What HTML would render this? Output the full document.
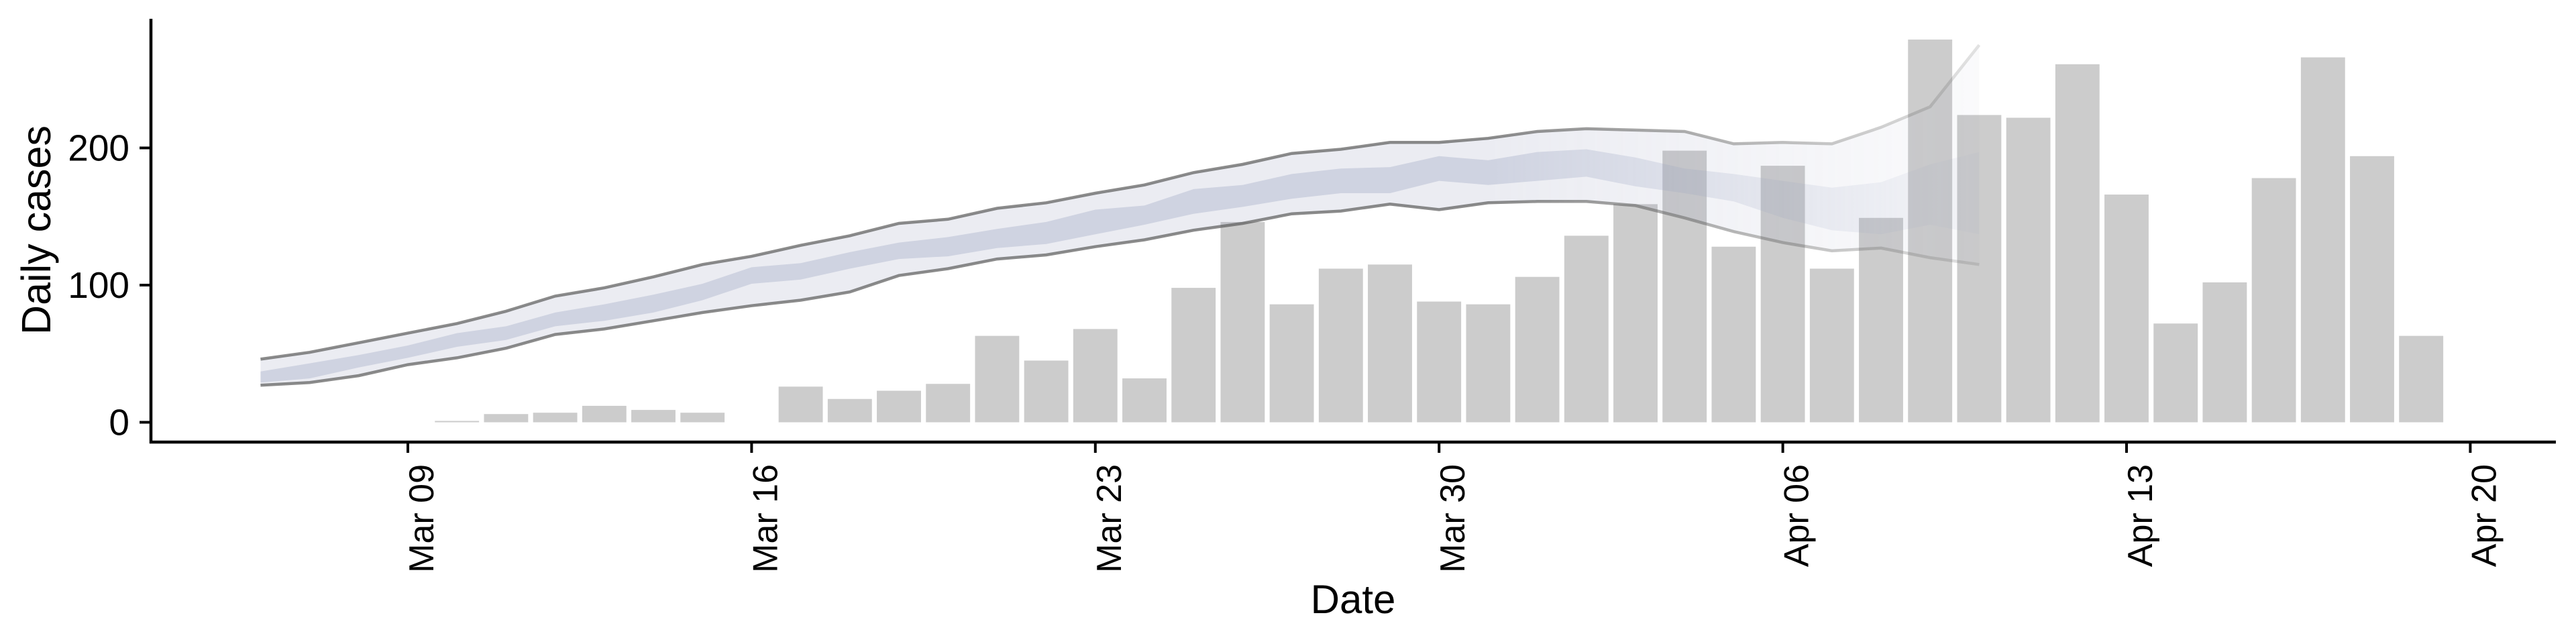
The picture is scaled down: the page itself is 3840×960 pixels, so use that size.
<!DOCTYPE html>
<html><head><meta charset="utf-8"><style>
html,body{margin:0;padding:0;background:#fff;}
svg{display:block;font-family:"Liberation Sans",sans-serif;}
</style></head><body>
<svg id="chart" width="3840" height="960" viewBox="0 0 3840 960" xmlns="http://www.w3.org/2000/svg">
<defs>
<linearGradient id="fadeGrad" gradientUnits="userSpaceOnUse" x1="0" y1="0" x2="3840" y2="0">
<stop id="fs1" offset="0" stop-color="#fff" stop-opacity="1"/>
<stop id="fs2" offset="0.5" stop-color="#fff" stop-opacity="1"/>
<stop id="fs3" offset="1" stop-color="#fff" stop-opacity="0.25"/>
</linearGradient>
<mask id="fadeMask" maskUnits="userSpaceOnUse" x="0" y="0" width="3840" height="960">
<rect x="0" y="0" width="3840" height="960" fill="url(#fadeGrad)"/>
</mask>
</defs>
<g id="bars"></g>
<g id="ribbon" mask="url(#fadeMask)"></g>
<g id="axes"></g>
</svg>
<script>
// Data: days counted from Mar 06
const barStartDay = 4; // Mar 10
const barValues = [1,6,7,12,9,7,0,26,17,23,28,63,45,68,32,98,146,86,112,115,88,86,106,136,159,198,128,187,112,149,279,224,222,261,166,72,102,178,266,194,63];
const bandStartDay = 0; // Mar 06
const upperValues = [46,51,58,65,72,81,92,98,106,115,121,129,136,145,148,156,160,167,173,182,188,196,199,204,204,207,212,214,213,212,203,204,203,215,230,275];
const lowerValues = [27,29,34,42,47,54,64,68,74,80,85,89,95,107,112,119,122,128,133,140,145,152,154,159,155,160,161,161,158,149,139,131,125,127,120,115];
const innerHiValues = [37,43,49,56,65,70,80,86,93,101,113,116,124,131,135,141,146,155,158,170,173,181,185,186,194,191,197,199,193,185,181,176,171,175,188,197];
const innerLoValues = [29,32,40,47,55,60,70,74,80,89,101,104,112,119,121,127,130,137,144,152,157,163,167,167,176,173,176,179,172,167,161,149,140,137,144,137];
const yTicks = [0,100,200];
const xTickDays = [3,10,17,24,31,38,45];
const xTickLabels = ["Mar 09","Mar 16","Mar 23","Mar 30","Apr 06","Apr 13","Apr 20"];

const NS = "http://www.w3.org/2000/svg";
const X0 = 608, DAY = 73.2;
function xs(d){ return X0 + (d-3)*DAY; }
function ys(v){ return 629.5 - v*2.045; }
function mk(tag, attrs, parent){
  const e = document.createElementNS(NS, tag);
  for (const k in attrs) e.setAttribute(k, attrs[k]);
  parent.appendChild(e); return e;
}
const barsG = document.getElementById('bars');
barValues.forEach((v,i)=>{
  if (v<=0) return;
  const d = barStartDay+i, w = DAY*0.9;
  const r = mk('rect',{x:xs(d)-w/2, y:ys(v), width:w, height:ys(0)-ys(v), fill:'#cccccc'}, barsG);
  
  
});
const rib = document.getElementById('ribbon');
function areaPath(hi, lo){
  let p = '';
  hi.forEach((v,i)=>{ p += (i?'L':'M') + xs(bandStartDay+i).toFixed(1) + ',' + ys(v).toFixed(1); });
  for (let i=lo.length-1;i>=0;i--) p += 'L' + xs(bandStartDay+i).toFixed(1) + ',' + ys(lo[i]).toFixed(1);
  return p + 'Z';
}
function linePath(vals){
  let p = '';
  vals.forEach((v,i)=>{ p += (i?'L':'M') + xs(bandStartDay+i).toFixed(1) + ',' + ys(v).toFixed(1); });
  return p;
}
const outer = mk('path',{d:areaPath(upperValues,lowerValues), fill:'rgba(145,152,185,0.18)'}, rib);


const inner = mk('path',{d:areaPath(innerHiValues,innerLoValues), fill:'rgba(150,158,188,0.33)'}, rib);


const up = mk('path',{d:linePath(upperValues), fill:'none', stroke:'rgba(90,90,90,0.7)', 'stroke-width':4.5}, rib);


const lo = mk('path',{d:linePath(lowerValues), fill:'none', stroke:'rgba(90,90,90,0.7)', 'stroke-width':4.5}, rib);


document.getElementById('fs2').setAttribute('offset', (xs(bandStartDay+25)/3840).toFixed(3));
document.getElementById('fs3').setAttribute('offset', (xs(bandStartDay+upperValues.length-1)/3840).toFixed(3));

const ax = document.getElementById('axes');
const yAxis = mk('line',{x1:225,y1:28,x2:225,y2:661,stroke:'#000','stroke-width':4.5}, ax);


const xAxis = mk('line',{x1:223,y1:659,x2:3810,y2:659,stroke:'#000','stroke-width':4.5}, ax);


yTicks.forEach(t=>{
  const y = ys(t);
  const tk = mk('line',{x1:208,y1:y,x2:225,y2:y,stroke:'#000','stroke-width':4}, ax);
  
  
  const tx = mk('text',{x:193,y:y+19,'text-anchor':'end','font-size':55,fill:'#000'}, ax);
  tx.textContent = t;
  
  
});
xTickDays.forEach((d,i)=>{
  const x = xs(d);
  const tk = mk('line',{x1:x,y1:659,x2:x,y2:675,stroke:'#000','stroke-width':4}, ax);
  
  
  const tx = mk('text',{x:0,y:0,'text-anchor':'end','font-size':52,fill:'#000',transform:'translate('+(x+38)+',692) rotate(-90)'}, ax);
  tx.textContent = xTickLabels[i];
  
  
});
const yt = mk('text',{x:0,y:0,'text-anchor':'middle','font-size':61,fill:'#000',transform:'translate(75,343) rotate(-90)'}, ax);
yt.textContent = 'Daily cases';


const xt = mk('text',{x:2017,y:914,'text-anchor':'middle','font-size':60,fill:'#000'}, ax);
xt.textContent = 'Date';


</script>
</body></html>
